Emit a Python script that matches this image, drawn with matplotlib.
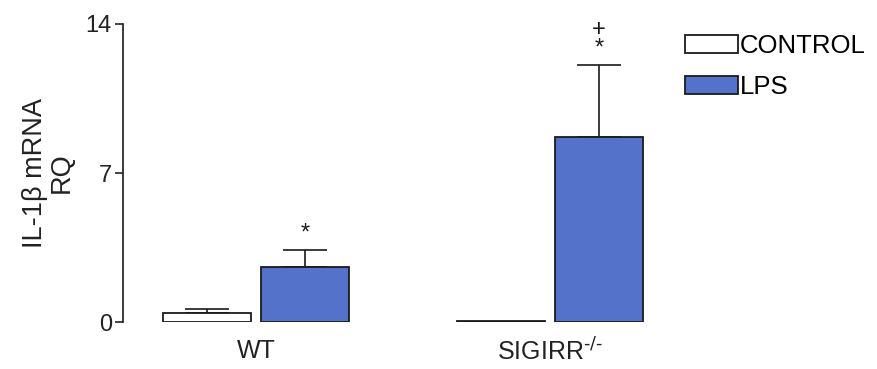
import matplotlib
matplotlib.use("Agg")
import matplotlib.pyplot as plt
import numpy as np

plt.rcParams['font.family'] = ['Liberation Sans', 'DejaVu Sans']

groups = ['WT', 'SIGIRR$^{\\text{-/-}}$']
control = [0.42, 0.03]
control_err = [0.18, 0.0]
lps = [2.6, 8.7]
lps_err = [0.8, 3.37]
marks_lps = ['*', '+\n*']

fig = plt.figure(figsize=(8.78, 3.69), dpi=100)
ax = fig.add_axes([0.140, 0.127, 0.612, 0.808])

x = np.arange(len(groups))
w = 0.30
off = 0.166
blue = '#5472c9'

ax.bar(x - off, control, w, color='white', edgecolor='#1a1a1a', linewidth=1.3, label='CONTROL', zorder=2)
ax.bar(x + off, lps, w, color=blue, edgecolor='#1a1a1a', linewidth=1.3, label='LPS', zorder=2)

for i in range(len(groups)):
    if control_err[i] > 0:
        ax.errorbar(x[i] - off, control[i], yerr=[[0], [control_err[i]]], fmt='none',
                    ecolor='#1a1a1a', elinewidth=1.2, capsize=16, capthick=1.2, zorder=1)
    ax.errorbar(x[i] + off, lps[i], yerr=[[0], [lps_err[i]]], fmt='none',
                ecolor='#1a1a1a', elinewidth=1.2, capsize=16, capthick=1.2, zorder=1)
    ax.text(x[i] + off, lps[i] + lps_err[i] + 0.25, marks_lps[i], ha='center', va='bottom',
            fontsize=17, linespacing=0.8, color='#1a1a1a')

ax.set_xlim(-0.452, 1.374)
ax.set_ylim(0, 14)
ax.set_yticks([0, 7, 14])
ax.set_xticks(x)
ax.set_xticklabels(groups, fontsize=18, color='#222222')
ax.tick_params(axis='y', direction='out', length=6, width=1.2, labelsize=17, colors='#222222', pad=2)
ax.tick_params(axis='x', length=0, pad=12)
for s in ['top', 'right', 'bottom']:
    ax.spines[s].set_visible(False)
ax.spines['left'].set_linewidth(1.2)
ax.spines['left'].set_color('#1a1a1a')
ax.set_ylabel('IL-1\u03b2 mRNA\nRQ', fontsize=19.5, color='#222222', linespacing=1.0, labelpad=8)

ax.legend(loc='upper left', frameon=False, fontsize=18.5, handlelength=2.05, handleheight=0.7,
          handletextpad=0.1, labelspacing=0.68, borderpad=0, borderaxespad=0,
          bbox_to_anchor=(685 / 878, 1 - 34 / 369), bbox_transform=fig.transFigure)

fig.savefig('out.png', dpi=100)
